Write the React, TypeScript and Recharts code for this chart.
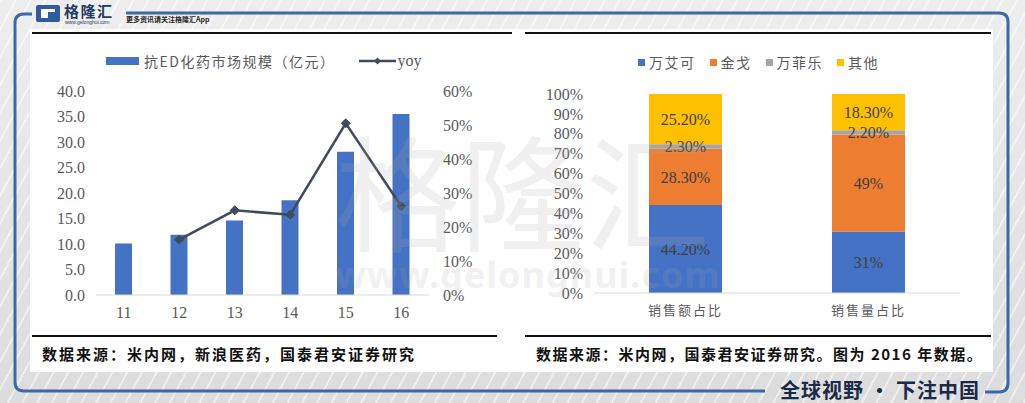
import { ComposedChart, BarChart, Bar, Line, XAxis, YAxis, LabelList } from 'recharts';

// left chart: 抗ED化药市场规模 + yoy
const years = ['11', '12', '13', '14', '15', '16'];
const marketSize = [10.1, 11.8, 14.6, 18.6, 28.1, 35.5];
const yoyGrowth = [null, 0.163, 0.249, 0.236, 0.505, 0.261];
const sizeTicks = [0, 5, 10, 15, 20, 25, 30, 35, 40];
const yoyTicks = [0, 0.1, 0.2, 0.3, 0.4, 0.5, 0.6];

// right chart: 2016 share split
const shareCategories = ['销售额占比', '销售量占比'];
const viagra = [44.2, 31];
const jinge = [28.3, 49];
const wanfeile = [2.3, 2.2];
const others = [25.2, 18.3];
const viagraText = ['44.20%', '31%'];
const jingeText = ['28.30%', '49%'];
const wanfeileText = ['2.30%', '2.20%'];
const othersText = ['25.20%', '18.30%'];
const shareTicks = [0, 0.1, 0.2, 0.3, 0.4, 0.5, 0.6, 0.7, 0.8, 0.9, 1];

const BLUE = '#4472C4';
const ORANGE = '#ED7D31';
const GRAY = '#A5A5A5';
const YELLOW = '#FFC000';
const LINE = '#404B5C';
const FRAME = '#3D68A8';
const NUM_FONT = '"Liberation Serif", "Noto Sans CJK SC", serif';
const CJK_FONT = '"Noto Sans CJK SC", sans-serif';

const marketData = years.map((y, i) => ({ year: y, size: marketSize[i], yoy: yoyGrowth[i] }));
const shareData = shareCategories.map((c, i) => ({
  name: c,
  viagra: viagra[i],
  jinge: jinge[i],
  wanfeile: wanfeile[i],
  others: others[i],
  viagraText: viagraText[i],
  jingeText: jingeText[i],
  wanfeileText: wanfeileText[i],
  othersText: othersText[i],
}));

const tickStyle = { fill: '#595959', fontSize: 16, fontFamily: NUM_FONT };
const catTickStyle = { fill: '#595959', fontSize: 13, fontFamily: CJK_FONT, letterSpacing: 2 };

const Diamond = (props: any) => {
  const { cx, cy, index } = props;
  if (cx == null || cy == null) return <g key={`d-${index}`} />;
  const r = 4.5;
  return (
    <path
      key={`d-${index}`}
      d={`M${cx},${cy - r}L${cx + r},${cy}L${cx},${cy + r}L${cx - r},${cy}Z`}
      fill={LINE}
      stroke={LINE}
    />
  );
};

const shareLabel = { fill: '#404040', fontSize: 16, fontFamily: NUM_FONT };

const LegendSwatch = ({ color, label }: { color: string; label: string }) => (
  <div style={{ display: 'flex', alignItems: 'center', marginRight: 14 }}>
    <div style={{ width: 7, height: 7, background: color, marginRight: 4 }} />
    <span style={{ fontSize: 14, letterSpacing: 1.5, color: '#595959', fontFamily: CJK_FONT }}>{label}</span>
  </div>
);

export default function App() {
  return (
    <div
      style={{
        position: 'absolute',
        left: 0,
        top: 0,
        width: 1025,
        height: 403,
        overflow: 'hidden',
        background:
          'repeating-linear-gradient(118deg, rgba(255,255,255,0.5) 0px, rgba(255,255,255,0.5) 2px, rgba(255,255,255,0) 2px, rgba(255,255,255,0) 13px), linear-gradient(180deg, #eeeeee, #dcdcdc)',
      }}
    >
      {/* frame */}
      <svg width={1025} height={403} style={{ position: 'absolute', left: 0, top: 0 }}>
        <path d="M32,14 L24,14 Q15,14 15,23 L15,382 Q15,391 24,391 L765,391" fill="none" stroke={FRAME} strokeWidth={3} />
        <path d="M126,13 L999,13 Q1008,13 1008,22 L1008,383 Q1008,392 999,392 L985,392" fill="none" stroke={FRAME} strokeWidth={3} />
      </svg>

      {/* header logo */}
      <div style={{ position: 'absolute', left: 36, top: 5, width: 24, height: 17, background: '#2E5C9E', borderRadius: 2 }}>
        <div style={{ position: 'absolute', left: 5, top: 4, width: 14, height: 9, background: '#fff' }} />
        <div style={{ position: 'absolute', left: 12, top: 7, width: 7, height: 6, background: '#2E5C9E' }} />
      </div>
      <div style={{ position: 'absolute', left: 64, top: 2, fontSize: 15, lineHeight: '17px', fontWeight: 700, color: '#1F3B66', fontFamily: CJK_FONT, letterSpacing: 1.5 }}>
        格隆汇
      </div>
      <div style={{ position: 'absolute', left: 65, top: 20, fontSize: 5, lineHeight: '5px', color: '#1F3B66', fontFamily: 'Arial, sans-serif' }}>
        www.gelonghui.com
      </div>
      <div style={{ position: 'absolute', left: 126, top: 14, fontSize: 7, fontWeight: 700, color: '#222', fontFamily: CJK_FONT }}>
        更多资讯请关注格隆汇App
      </div>

      {/* white panel */}
      <div style={{ position: 'absolute', left: 30, top: 29, width: 963, height: 343, background: '#ffffff' }} />
      <div style={{ position: 'absolute', left: 32, top: 32, width: 480, height: 2, background: '#111' }} />
      <div style={{ position: 'absolute', left: 525, top: 32, width: 466, height: 2, background: '#111' }} />
      <div style={{ position: 'absolute', left: 32, top: 335, width: 465, height: 2, background: '#111' }} />
      <div style={{ position: 'absolute', left: 525, top: 335, width: 466, height: 2, background: '#111' }} />

      {/* left legend */}
      <div style={{ position: 'absolute', left: 106, top: 51, display: 'flex', alignItems: 'center', fontFamily: CJK_FONT, color: '#595959' }}>
        <div style={{ width: 33, height: 8, background: BLUE, marginRight: 5 }} />
        <span style={{ fontSize: 14, letterSpacing: 1.5 }}>抗ED化药市场规模（亿元）</span>
        <svg width={37} height={10} style={{ marginLeft: 24 }}>
          <line x1={0} y1={5} x2={37} y2={5} stroke={LINE} strokeWidth={2.5} />
          <path d="M18.5,1.5L22,5L18.5,8.5L15,5Z" fill={LINE} />
        </svg>
        <span style={{ fontSize: 16, fontFamily: NUM_FONT, marginLeft: 1 }}>yoy</span>
      </div>

      <div style={{ position: 'absolute', left: 30, top: 40 }}>
        <ComposedChart width={470} height={290} data={marketData} margin={{ top: 51, right: 0, bottom: 0, left: 0 }}>
          <XAxis
            dataKey="year"
            height={35}
            axisLine={{ stroke: '#D9D9D9' }}
            tickLine={false}
            tickSize={0}
            tickMargin={12}
            tick={tickStyle}
            interval={0}
          />
          <YAxis
            yAxisId="size"
            width={66}
            domain={[0, 40]}
            ticks={sizeTicks}
            interval={0}
            tickFormatter={(v: number) => v.toFixed(1)}
            axisLine={false}
            tickLine={false}
            tickSize={0}
            tickMargin={11}
            tick={tickStyle}
          />
          <YAxis
            yAxisId="yoy"
            orientation="right"
            width={71}
            domain={[0, 0.6]}
            ticks={yoyTicks}
            interval={0}
            tickFormatter={(v: number) => `${Math.round(v * 100)}%`}
            axisLine={false}
            tickLine={false}
            tickSize={0}
            tickMargin={14}
            tick={{ ...tickStyle, textAnchor: 'start' }}
          />
          <Bar yAxisId="size" dataKey="size" fill={BLUE} barSize={17} isAnimationActive={false} />
          <Line
            yAxisId="yoy"
            dataKey="yoy"
            stroke={LINE}
            strokeWidth={2.5}
            dot={Diamond}
            activeDot={false}
            connectNulls={false}
            isAnimationActive={false}
          />
        </ComposedChart>
      </div>

      {/* right legend */}
      <div style={{ position: 'absolute', left: 638, top: 52, display: 'flex', alignItems: 'center' }}>
        <LegendSwatch color={BLUE} label="万艾可" />
        <LegendSwatch color={ORANGE} label="金戈" />
        <LegendSwatch color={GRAY} label="万菲乐" />
        <LegendSwatch color={YELLOW} label="其他" />
      </div>

      <div style={{ position: 'absolute', left: 525, top: 40 }}>
        <BarChart
          width={470}
          height={290}
          data={shareData}
          stackOffset="expand"
          margin={{ top: 54, right: 35, bottom: 0, left: 0 }}
        >
          <XAxis
            dataKey="name"
            height={37}
            axisLine={{ stroke: '#D9D9D9' }}
            tickLine={false}
            tickSize={0}
            tickMargin={13}
            tick={catTickStyle}
          />
          <YAxis
            width={69}
            domain={[0, 1]}
            ticks={shareTicks}
            interval={0}
            tickFormatter={(v: number) => `${Math.round(v * 100)}%`}
            axisLine={false}
            tickLine={false}
            tickSize={0}
            tickMargin={11}
            tick={tickStyle}
          />
          <Bar dataKey="viagra" stackId="s" fill={BLUE} barSize={73} isAnimationActive={false}>
            <LabelList dataKey="viagraText" position="center" style={shareLabel} />
          </Bar>
          <Bar dataKey="jinge" stackId="s" fill={ORANGE} barSize={73} isAnimationActive={false}>
            <LabelList dataKey="jingeText" position="center" style={shareLabel} />
          </Bar>
          <Bar dataKey="wanfeile" stackId="s" fill={GRAY} barSize={73} isAnimationActive={false}>
            <LabelList dataKey="wanfeileText" position="center" style={shareLabel} />
          </Bar>
          <Bar dataKey="others" stackId="s" fill={YELLOW} barSize={73} isAnimationActive={false}>
            <LabelList dataKey="othersText" position="center" style={shareLabel} />
          </Bar>
        </BarChart>
      </div>

      {/* sources */}
      <div style={{ position: 'absolute', left: 42, top: 343, fontSize: 15, fontWeight: 700, letterSpacing: 2, color: '#111', fontFamily: CJK_FONT }}>
        数据来源：米内网，新浪医药，国泰君安证券研究
      </div>
      <div style={{ position: 'absolute', left: 536, top: 343, fontSize: 15, fontWeight: 700, letterSpacing: 1.5, color: '#111', fontFamily: CJK_FONT }}>
        数据来源：米内网，国泰君安证券研究。图为 2016 年数据。
      </div>

      {/* slogan */}
      <div style={{ position: 'absolute', left: 780, top: 375, fontSize: 20, fontWeight: 700, letterSpacing: 1, color: '#1B2A48', fontFamily: CJK_FONT }}>
        全球视野 · 下注中国
      </div>

      {/* watermark */}
      <div style={{ position: 'absolute', left: 335, top: 108, fontSize: 125, lineHeight: '160px', color: 'rgba(170,170,170,0.18)', fontFamily: CJK_FONT, pointerEvents: 'none' }}>
        格隆汇
      </div>
      <div style={{ position: 'absolute', left: 335, top: 250, fontSize: 36, fontWeight: 700, letterSpacing: 1, color: 'rgba(170,170,170,0.18)', fontFamily: '"Noto Sans", sans-serif', pointerEvents: 'none' }}>
        www.gelonghui.com
      </div>
    </div>
  );
}
